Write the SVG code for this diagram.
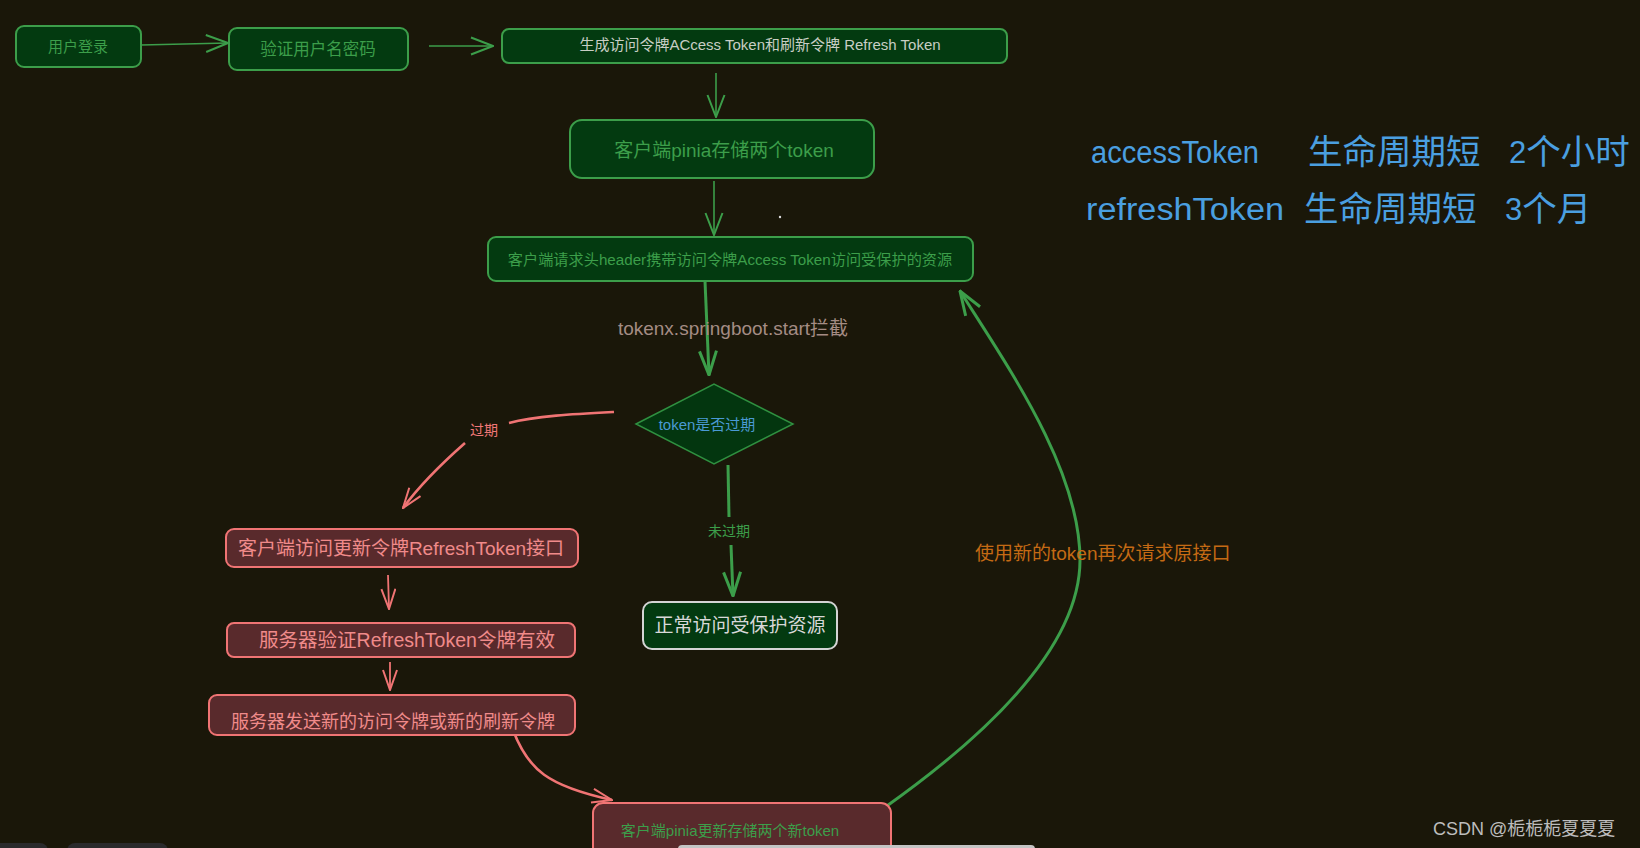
<svg xmlns="http://www.w3.org/2000/svg" width="1640" height="848" viewBox="0 0 1640 848">
  <defs>
    <style>
      text { font-family: "Liberation Sans", "Noto Sans CJK SC", sans-serif; dominant-baseline: central; text-anchor: middle; }
      .gbox { fill: #033a10; stroke: #3c9e4a; stroke-width: 2; }
      .rbox { fill: #592a2c; stroke: #f07474; stroke-width: 2; }
      .gtxt { fill: #3c9e4a; }
      .rtxt { fill: #f08a8a; }
      .gline { fill: none; stroke: #3c9e4a; stroke-width: 1.6; }
      .gthick { fill: none; stroke: #3c9e4a; stroke-width: 3; }
      .rline { fill: none; stroke: #f07474; stroke-width: 1.8; }
      .rthick { fill: none; stroke: #f07474; stroke-width: 2.6; }
      .note { fill: #4a9fe0; text-anchor: start; }
      .lat { font-size: 31px; }
      .cjk { font-size: 34.5px; }
    </style>
    <marker id="arrG" viewBox="0 0 24 20" refX="23" refY="10" markerWidth="24" markerHeight="20" markerUnits="userSpaceOnUse" orient="auto">
      <path d="M1,1.5 L23,10 L1,18.5" fill="none" stroke="#3c9e4a" stroke-width="2"/>
    </marker>
    <marker id="arrGb" viewBox="0 0 26 20" refX="25" refY="10" markerWidth="26" markerHeight="20" markerUnits="userSpaceOnUse" orient="auto">
      <path d="M1,1.5 L25,10 L1,18.5" fill="none" stroke="#3c9e4a" stroke-width="3"/>
    </marker>
    <marker id="arrR" viewBox="0 0 22 16" refX="21" refY="8" markerWidth="22" markerHeight="16" markerUnits="userSpaceOnUse" orient="auto">
      <path d="M1,1 L21,8 L1,15" fill="none" stroke="#f07474" stroke-width="2"/>
    </marker>
  </defs>

  <!-- canvas -->
  <rect x="0" y="0" width="1640" height="848" fill="#1a1709"/>

  <!-- connectors -->
  <g id="connectors">
    <path class="gline" d="M141,45 L228,43" marker-end="url(#arrG)"/>
    <path class="gline" d="M429,46 L493,46" marker-end="url(#arrG)"/>
    <path class="gline" d="M716,73 L716,117" marker-end="url(#arrG)"/>
    <path class="gline" d="M714,181 L714,235" marker-end="url(#arrG)"/>
    <path class="gthick" d="M705,281 L709,375" marker-end="url(#arrGb)"/>
    <path class="rthick" d="M614,412 C575,414 535,416 509,423"/>
    <path class="rthick" d="M465,443 C440,465 420,485 403,508" marker-end="url(#arrR)"/>
    <path class="gthick" d="M728,465 L729,517"/>
    <path class="gthick" d="M731,545 L733,596" marker-end="url(#arrGb)"/>
    <path class="rline" d="M388,575 L389,609" marker-end="url(#arrR)"/>
    <path class="rline" d="M390,662 L390,690" marker-end="url(#arrR)"/>
    <path class="rthick" d="M513,730 C528,770 548,786 612,800" marker-end="url(#arrR)"/>
    <path class="gthick" d="M884,808 C980,740 1080,650 1080,560 C1080,470 1010,370 960,291" marker-end="url(#arrGb)"/>
  </g>

  <!-- connector labels -->
  <g id="edge-labels">
    <text x="733" y="328" font-size="19" fill="#a48c84">tokenx.springboot.start拦截</text>
    <text x="484" y="430" font-size="14" fill="#f07878">过期</text>
    <text x="729" y="531" font-size="14" class="gtxt">未过期</text>
    <text x="975" y="553" font-size="19" fill="#c46a14" style="text-anchor:start">使用新的token再次请求原接口</text>
  </g>

  <g id="node-login">
    <rect class="gbox" x="16" y="26" width="125" height="41" rx="8"/>
    <text x="78" y="46" font-size="15" class="gtxt">用户登录</text>
  </g>
  <g id="node-verify">
    <rect class="gbox" x="229" y="28" width="179" height="42" rx="8"/>
    <text x="318" y="49" font-size="16.5" class="gtxt">验证用户名密码</text>
  </g>
  <g id="node-issue">
    <rect class="gbox" x="502" y="29" width="505" height="34" rx="7"/>
    <text x="760" y="44" font-size="15" fill="#c8cec4">生成访问令牌ACcess Token和刷新令牌 Refresh Token</text>
  </g>
  <g id="node-store">
    <rect class="gbox" x="570" y="120" width="304" height="58" rx="12"/>
    <text x="724" y="150" font-size="19" class="gtxt">客户端pinia存储两个token</text>
  </g>
  <g id="node-request">
    <rect class="gbox" x="488" y="237" width="485" height="44" rx="8"/>
    <text x="730" y="259" font-size="15.2" class="gtxt">客户端请求头header携带访问令牌Access Token访问受保护的资源</text>
  </g>
  <g id="node-check">
    <polygon points="636,424 714,384 793,424 714,464" fill="#03360f" stroke="#2f9040" stroke-width="1.5"/>
    <text x="707" y="424" font-size="15" fill="#4a9ad4">token是否过期</text>
  </g>
  <g id="node-normal">
    <rect x="643" y="602" width="194" height="47" rx="9" fill="#033a10" stroke="#d4d4d4" stroke-width="2"/>
    <text x="740" y="625" font-size="19" fill="#d8d8d8">正常访问受保护资源</text>
  </g>
  <g id="node-refresh-call">
    <rect class="rbox" x="226" y="529" width="352" height="38" rx="8"/>
    <text x="401" y="548" font-size="19" class="rtxt">客户端访问更新令牌RefreshToken接口</text>
  </g>
  <g id="node-server-verify">
    <rect class="rbox" x="227" y="623" width="348" height="34" rx="7"/>
    <text x="407" y="640" font-size="19.5" class="rtxt">服务器验证RefreshToken令牌有效</text>
  </g>
  <g id="node-server-send">
    <rect class="rbox" x="209" y="695" width="366" height="40" rx="8"/>
    <text x="393" y="722" font-size="18" class="rtxt">服务器发送新的访问令牌或新的刷新令牌</text>
  </g>
  <g id="node-update">
    <rect class="rbox" x="593" y="803" width="298" height="60" rx="10"/>
    <text x="730" y="830" font-size="15" class="gtxt">客户端pinia更新存储两个新token</text>
  </g>

  <!-- token lifetime notes -->
  <g id="notes" class="note">
    <text class="note lat" x="1091" y="152" textLength="168" lengthAdjust="spacingAndGlyphs">accessToken</text>
    <text class="note cjk" x="1308" y="152">生命周期短</text>
    <text class="note" y="152"><tspan class="lat" x="1509">2</tspan><tspan class="cjk">个小时</tspan></text>
    <text class="note lat" x="1086" y="209" textLength="198" lengthAdjust="spacingAndGlyphs">refreshToken</text>
    <text class="note cjk" x="1304" y="209">生命周期短</text>
    <text class="note" y="209"><tspan class="lat" x="1505">3</tspan><tspan class="cjk">个月</tspan></text>
  </g>

  <!-- small speck and page chrome -->
  <circle cx="780" cy="217" r="1.2" fill="#dddddd"/>
  <rect x="678" y="845" width="357" height="12" rx="4" fill="#c4c4c4"/>
  <rect x="-10" y="843" width="58" height="20" rx="8" fill="#2a2a2c"/>
  <rect x="67" y="843" width="101" height="20" rx="8" fill="#2a2a2c"/>

  <text x="1433" y="829" font-size="18" fill="#bdbdbd" style="text-anchor:start">CSDN @栀栀栀夏夏夏</text>
</svg>
